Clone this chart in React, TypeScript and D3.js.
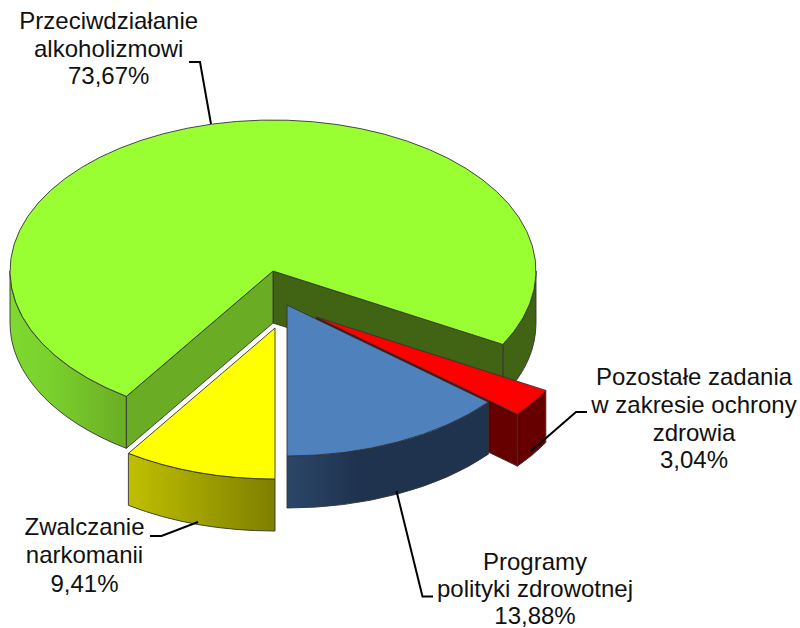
import React from "react";
import * as d3 from "d3";

const categories = ["Przeciwdziałanie alkoholizmowi", "Pozostałe zadania w zakresie ochrony zdrowia", "Programy polityki zdrowotnej", "Zwalczanie narkomanii"];
const shares = [73.67, 3.04, 13.88, 9.41];
const shareLabels = ["73,67%", "3,04%", "13,88%", "9,41%"];
const labelLines = [
  ["Przeciwdziałanie", "alkoholizmowi"],
  ["Pozostałe zadania", "w zakresie ochrony", "zdrowia"],
  ["Programy", "polityki zdrowotnej"],
  ["Zwalczanie", "narkomanii"],
];
const topColors = ["#99ff33", "#ff0000", "#4f81bd", "#ffff00"];

const W = 800, H = 628;
const RX = 263, RY = 151, DEPTH = 52;
const apexes: [number, number][] = [[273, 271], [316, 317], [287, 305], [275, 328]];
const labelPos = [
  { x: 108.7, y: [28.5, 56.5, 84] },
  { x: 694, y: [385, 413, 440.5, 467.5] },
  { x: 535, y: [570, 597, 624] },
  { x: 84.5, y: [535, 563, 591.5] },
];
const leaders: [number, number][][] = [
  [[189, 62], [200, 62], [211, 124]],
  [[530.5, 451.5], [576, 412], [587, 412]],
  [[396.5, 491], [422.5, 596.5], [433, 596.5]],
  [[198, 522], [161.5, 536], [150, 536]],
];
const OUTLINE = "#333333";
const deg = Math.PI / 180;

const arcs = d3.pie<number>().sort(null).value((d) => d)
  .startAngle(213.876 * deg).endAngle((213.876 + 360) * deg)(shares);

const pt = (c: [number, number], a: number, dz = 0): [number, number] => [
  c[0] + RX * Math.sin(a),
  c[1] - RY * Math.cos(a) + dz,
];
const fmt = (p: [number, number]) => `${p[0].toFixed(2)} ${p[1].toFixed(2)}`;

function topPath(c: [number, number], a0: number, a1: number) {
  const large = a1 - a0 > Math.PI ? 1 : 0;
  return `M${fmt(c)}L${fmt(pt(c, a0))}A${RX} ${RY} 0 ${large} 1 ${fmt(pt(c, a1))}Z`;
}
function wallPath(c: [number, number], a0: number, a1: number) {
  const large = a1 - a0 > Math.PI ? 1 : 0;
  return `M${fmt(pt(c, a0))}A${RX} ${RY} 0 ${large} 1 ${fmt(pt(c, a1))}L${fmt(pt(c, a1, DEPTH))}A${RX} ${RY} 0 ${large} 0 ${fmt(pt(c, a0, DEPTH))}Z`;
}
function cutPath(c: [number, number], a: number) {
  return `M${fmt(c)}L${fmt(pt(c, a))}L${fmt(pt(c, a, DEPTH))}L${c[0]} ${c[1] + DEPTH}Z`;
}
const leaderLine = d3.line();

export default function App() {
  const [green, red, blue, yellow] = arcs;
  const strokeProps = { stroke: OUTLINE, strokeWidth: 0.9, strokeLinejoin: "round" as const };
  return (
    <svg width={W} height={H} viewBox={`0 0 ${W} ${H}`} style={{ position: "absolute", left: 0, top: 0, background: "#fff" }}
      fontFamily="'Liberation Sans', Arial, sans-serif" fontSize={24} fill="#111">
      <defs>
        <linearGradient id="gLeft" gradientUnits="userSpaceOnUse" x1={10} x2={127} y1={0} y2={0}>
          <stop offset="0" stopColor="#7fd92f" />
          <stop offset="0.35" stopColor="#7ad02d" />
          <stop offset="1" stopColor="#6aad24" />
        </linearGradient>
        <linearGradient id="bWall" gradientUnits="userSpaceOnUse" x1={287} x2={488} y1={0} y2={0}>
          <stop offset="0" stopColor="#2c4669" />
          <stop offset="0.35" stopColor="#1f334f" />
          <stop offset="1" stopColor="#1f334f" />
        </linearGradient>
        <linearGradient id="yWall" gradientUnits="userSpaceOnUse" x1={129} x2={275} y1={0} y2={0}>
          <stop offset="0" stopColor="#bfbf00" />
          <stop offset="1" stopColor="#7f7f00" />
        </linearGradient>
      </defs>

      {/* green slice */}
      <path d={wallPath(apexes[0], green.startAngle, 270 * deg)} fill="url(#gLeft)" {...strokeProps} />
      <path d={wallPath(apexes[0], 450 * deg, green.endAngle)} fill="#406414" {...strokeProps} />
      <path d={cutPath(apexes[0], green.endAngle)} fill="#406414" {...strokeProps} />
      <path d={cutPath(apexes[0], green.startAngle)} fill="#6aad24" {...strokeProps} />
      <path d={topPath(apexes[0], green.startAngle, green.endAngle)} fill={topColors[0]} {...strokeProps} />

      {/* red slice */}
      <path d={cutPath(apexes[1], red.endAngle)} fill="#660000" {...strokeProps} />
      <path d={wallPath(apexes[1], red.startAngle, red.endAngle)} fill="#660000" {...strokeProps} />
      <path d={topPath(apexes[1], red.startAngle, red.endAngle)} fill={topColors[1]} {...strokeProps} />

      {/* blue slice */}
      <path d={wallPath(apexes[2], blue.startAngle, blue.endAngle)} fill="url(#bWall)" {...strokeProps} />
      <path d={topPath(apexes[2], blue.startAngle, blue.endAngle)} fill={topColors[2]} {...strokeProps} />

      {/* yellow slice */}
      <path d={wallPath(apexes[3], yellow.startAngle, yellow.endAngle)} fill="url(#yWall)" {...strokeProps} />
      <path d={topPath(apexes[3], yellow.startAngle, yellow.endAngle)} fill={topColors[3]} {...strokeProps} />

      {leaders.map((l, i) => (
        <path key={i} d={leaderLine(l) ?? ""} fill="none" stroke="#000" strokeWidth={2} />
      ))}

      {categories.map((c, i) => (
        <text key={c} textAnchor="middle">
          {[...labelLines[i], shareLabels[i]].map((t, j) => (
            <tspan key={j} x={labelPos[i].x} y={labelPos[i].y[j]}>{t}</tspan>
          ))}
        </text>
      ))}
    </svg>
  );
}
